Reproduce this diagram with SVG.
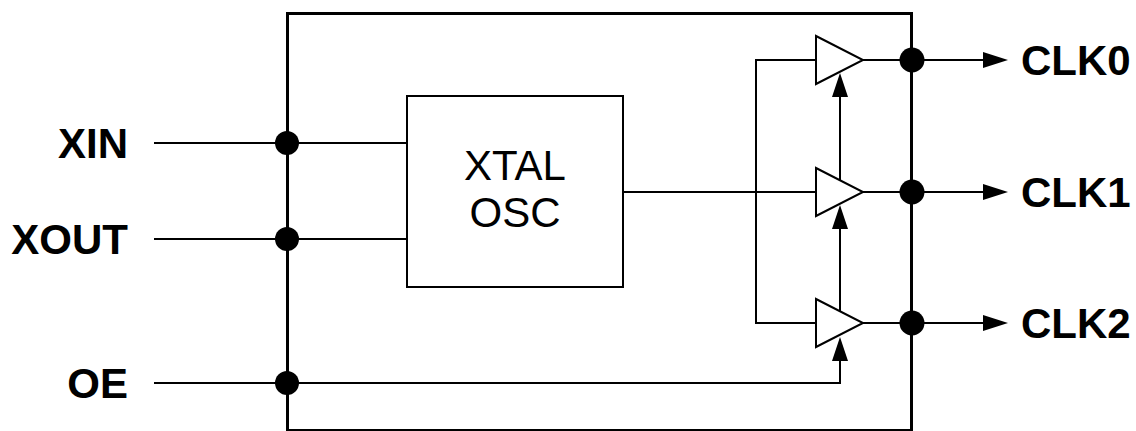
<svg xmlns="http://www.w3.org/2000/svg" width="1136" height="431" viewBox="0 0 1136 431">
<style>
.w{fill:none;stroke:#000;stroke-width:2}
.dot{fill:#000}
.ah{fill:#000}
.buf{fill:#fff;stroke:#000;stroke-width:2;stroke-linejoin:miter}
.lbl{font-family:"Liberation Sans",Arial,sans-serif;font-weight:bold;font-size:42px;fill:#000}
.osc{font-family:"Liberation Sans",Arial,sans-serif;font-size:42px;fill:#000}
</style>
<rect width="1136" height="431" fill="#fff"/>
<g id="chip">
<rect x="287.5" y="13.5" width="624" height="417" fill="none" stroke="#000" stroke-width="3"/>
</g>
<g id="connectors">
<path class="w" d="M154,143H407M154,239H407M154,383H840V361"/>
<path class="w" d="M623,192H816"/>
<path class="w" d="M816,60H756V323H816"/>
<path class="w" d="M840,180V97M840,311V229"/>
<path class="w" d="M863,60H983M863,192H983M863,323H983"/>
<polygon class="ah" points="983,52 1008,60 983,68"/>
<polygon class="ah" points="983,184 1008,192 983,200"/>
<polygon class="ah" points="983,315 1008,323 983,331"/>
<polygon class="ah" points="832,97 840,73 848,97"/>
<polygon class="ah" points="832,229 840,205 848,229"/>
<polygon class="ah" points="832,361 840,337 848,361"/>
<circle class="dot" cx="287" cy="143" r="12"/>
<circle class="dot" cx="287" cy="239" r="12"/>
<circle class="dot" cx="287" cy="383" r="12"/>
<circle class="dot" cx="912" cy="60" r="12.5"/>
<circle class="dot" cx="912" cy="192" r="12.5"/>
<circle class="dot" cx="912" cy="323" r="12.5"/>
</g>
<g id="osc">
<rect x="407" y="96" width="216" height="191" fill="none" stroke="#000" stroke-width="2"/>
<text class="osc" x="515" y="180" text-anchor="middle">XTAL</text>
<text class="osc" x="515" y="227" text-anchor="middle">OSC</text>
</g>
<g id="buf0"><polygon class="buf" points="816,36 816,84 863,60"/></g>
<g id="buf1"><polygon class="buf" points="816,168 816,216 863,192"/></g>
<g id="buf2"><polygon class="buf" points="816,299 816,347 863,323"/></g>
<g id="in-xin"><text class="lbl" x="128" y="158" text-anchor="end">XIN</text></g>
<g id="in-xout"><text class="lbl" x="128" y="254" text-anchor="end">XOUT</text></g>
<g id="in-oe"><text class="lbl" x="128" y="398" text-anchor="end">OE</text></g>
<g id="out-clk0"><text class="lbl" x="1021" y="75">CLK0</text></g>
<g id="out-clk1"><text class="lbl" x="1021" y="207">CLK1</text></g>
<g id="out-clk2"><text class="lbl" x="1021" y="338">CLK2</text></g>
</svg>
